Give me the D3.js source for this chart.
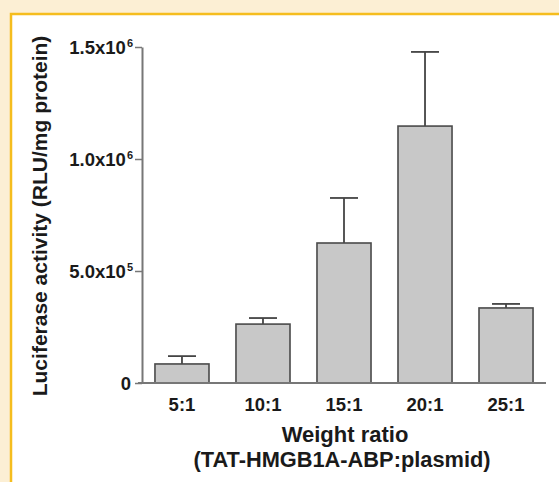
<!DOCTYPE html>
<html>
<head>
<meta charset="utf-8">
<script src="https://cdn.jsdelivr.net/npm/d3@7"></script>
<style>
  body { margin: 0; background: #fcefd4; }
  svg { display: block; }
  text { font-family: "Liberation Sans", Arial, Helvetica, sans-serif; font-weight: bold; fill: #1a1a1a; }
</style>
</head>
<body>
<svg id="chart"></svg>
<script>
// data
const ratios = ["5:1", "10:1", "15:1", "20:1", "25:1"];
const means = [85000, 263000, 625000, 1147000, 335000];
const errors = [35000, 27000, 201000, 331000, 18000];
const yTicks = [0, 500000, 1000000, 1500000];
const yTickLabels = [["0", ""], ["5.0x10", "5"], ["1.0x10", "6"], ["1.5x10", "6"]];

const W = 559, H = 482;
const margin = {top: 47, right: 13, bottom: 99, left: 142};

const svg = d3.select('#chart')
  .attr('width', W)
  .attr('height', H);

// frame: cream page, orange border, white panel
svg.append('rect').attr('width', W).attr('height', H).attr('fill', '#fcefd4');
svg.append('rect')
  .attr('x', 11).attr('y', 14)
  .attr('width', W - 11).attr('height', H - 14)
  .attr('fill', '#fff');
svg.append('path')
  .attr('d', `M11,${H} V14 H${W}`)
  .attr('fill', 'none')
  .attr('stroke', '#f5bd1e')
  .attr('stroke-width', 2.5);

const width = W - margin.left - margin.right;
const height = H - margin.top - margin.bottom;

const chart = svg.append('g')
  .attr('transform', `translate(${margin.left},${margin.top})`);

const x = d3.scaleBand()
  .domain(ratios)
  .range([0, width])
  .paddingInner(0.333)
  .paddingOuter(0.16);

const y = d3.scaleLinear()
  .domain([0, 1500000])
  .range([height, 0]);

const rows = ratios.map((r, i) => ({r: r, m: means[i], e: errors[i]}));

// error bars (upper only), drawn behind bars
const err = chart.selectAll('.err')
  .data(rows)
  .join('g')
  .attr('class', 'err')
  .attr('stroke', '#444')
  .attr('stroke-width', 1.8);

err.append('line')
  .attr('x1', d => x(d.r) + x.bandwidth() / 2)
  .attr('x2', d => x(d.r) + x.bandwidth() / 2)
  .attr('y1', d => y(d.m))
  .attr('y2', d => y(d.m + d.e));

err.append('line')
  .attr('x1', d => x(d.r) + x.bandwidth() / 2 - 14)
  .attr('x2', d => x(d.r) + x.bandwidth() / 2 + 14)
  .attr('y1', d => y(d.m + d.e))
  .attr('y2', d => y(d.m + d.e));

chart.selectAll('.bar')
  .data(rows)
  .join('rect')
  .attr('class', 'bar')
  .attr('x', d => x(d.r))
  .attr('width', x.bandwidth())
  .attr('y', d => y(d.m))
  .attr('height', d => height - y(d.m))
  .attr('fill', '#c8c8c8')
  .attr('stroke', '#4a4a4a')
  .attr('stroke-width', 1.6);

// y axis
const yAxis = d3.axisLeft(y)
  .tickValues(yTicks)
  .tickSize(7)
  .tickSizeOuter(0)
  .tickFormat('');

const yAxisG = chart.append('g').call(yAxis);
yAxisG.select('.domain').attr('stroke', '#777').attr('stroke-width', 2);
yAxisG.selectAll('.tick line').attr('stroke', '#777').attr('stroke-width', 1.5);

// tick labels with superscript exponent
yTicks.forEach((t, i) => {
  const lab = yTickLabels[i];
  const txt = chart.append('text')
    .attr('x', lab[1] ? -9 : -11)
    .attr('y', y(t) + 6.5)
    .attr('text-anchor', 'end')
    .style('font-size', '18.5px');
  txt.append('tspan').text(lab[0]);
  if (lab[1]) {
    txt.append('tspan')
      .attr('dx', 1)
      .attr('dy', -7)
      .style('font-size', '11px')
      .text(lab[1]);
  }
});

// x axis
const xAxisG = chart.append('g')
  .attr('transform', `translate(0,${height})`)
  .call(d3.axisBottom(x).tickSize(0).tickSizeOuter(0));
xAxisG.select('.domain')
  .attr('d', `M-4,0H${width}`)
  .attr('stroke', '#777')
  .attr('stroke-width', 2);
xAxisG.selectAll('.tick text')
  .attr('dy', 0)
  .attr('y', 28)
  .style('font-size', '18.5px')
  .style('font-family', '"Liberation Sans", Arial, sans-serif')
  .style('font-weight', 'bold')
  .attr('fill', '#1a1a1a');

// axis titles
svg.append('text')
  .attr('x', 345)
  .attr('y', 442)
  .attr('text-anchor', 'middle')
  .style('font-size', '22px')
  .text('Weight ratio');

svg.append('text')
  .attr('x', 342)
  .attr('y', 467)
  .attr('text-anchor', 'middle')
  .style('font-size', '21.8px')
  .text('(TAT-HMGB1A-ABP:plasmid)');

svg.append('text')
  .attr('transform', 'translate(47,216) rotate(-90)')
  .attr('text-anchor', 'middle')
  .style('font-size', '21px')
  .text('Luciferase activity (RLU/mg protein)');
</script>
</body>
</html>
